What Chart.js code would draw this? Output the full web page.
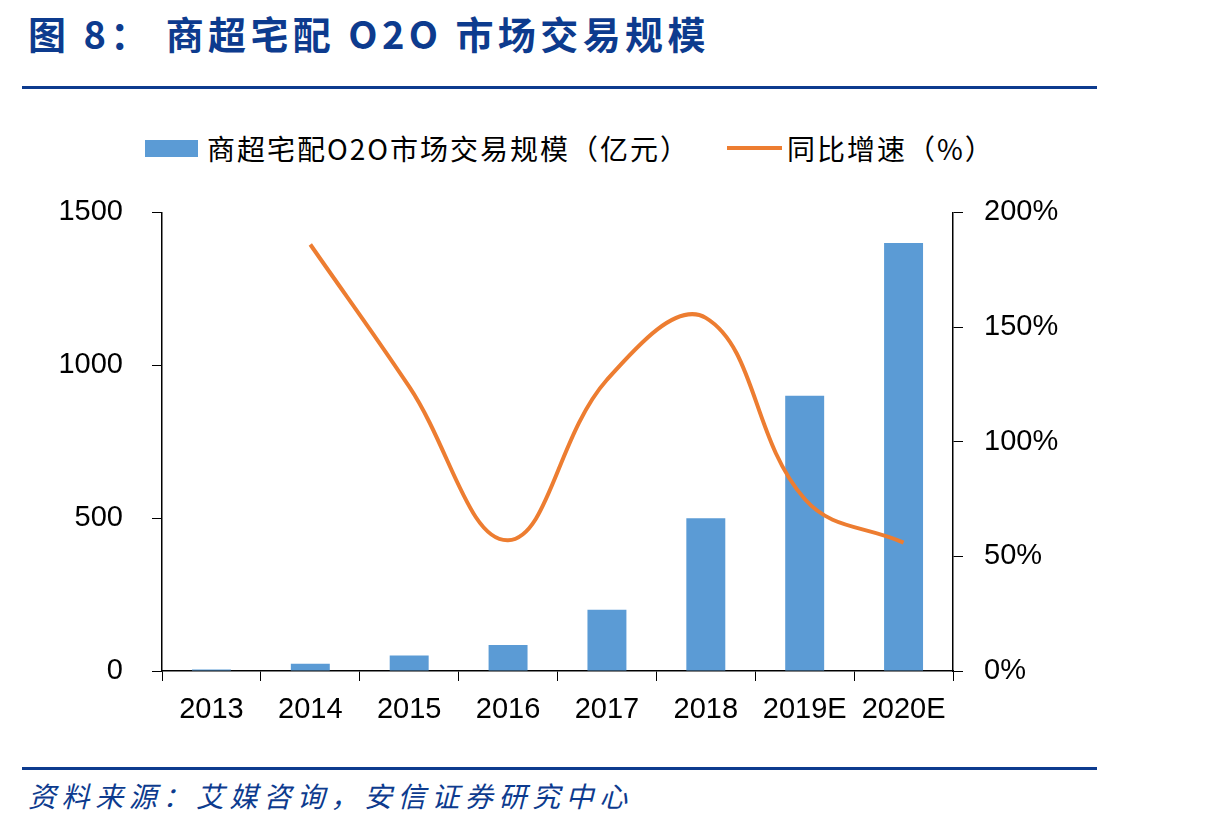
<!DOCTYPE html>
<html lang="zh">
<head>
  <meta charset="UTF-8"/>
  <title>商超宅配 O2O 市场交易规模</title>
  <script src="https://cdn.jsdelivr.net/npm/chart.js"></script>
  <style>
    body { margin:0; width:1214px; height:822px; background:#fff; position:relative; overflow:hidden; font-family:'Noto Sans CJK SC',sans-serif; }
    .title { position:absolute; left:28px; top:5px; font-size:38px; font-weight:700; color:#0d3b8e; letter-spacing:4.4px; white-space:nowrap; }
    .rule { position:absolute; left:22px; width:1075px; height:3px; background:#0d3b8e; }
    .legend { position:absolute; top:128px; left:0; height:40px; font-size:28px; color:#000; white-space:nowrap; letter-spacing:2px; }
    .legend span { position:absolute; top:0; line-height:40px; }
    .lg-box { position:absolute; left:145px; top:12px; width:53px; height:17px; background:#5b9bd5; }
    .lg-line { position:absolute; left:727px; top:18px; width:55px; height:4px; background:#ed7d31; }
    .source { position:absolute; left:28px; top:775px; font-size:28px; font-style:italic; color:#0d3b8e; letter-spacing:5.6px; white-space:nowrap; }
    #wrap { position:absolute; left:0; top:166px; width:1214px; height:565px; }
  </style>
</head>
<body>
<div class="title">图 8： 商超宅配 O2O 市场交易规模</div>
<div class="rule" style="top:86px"></div>

<div class="legend">
  <div class="lg-box"></div>
  <span style="left:207px">商超宅配O2O市场交易规模（亿元）</span>
  <div class="lg-line"></div>
  <span style="left:787px">同比增速（%）</span>
</div>

<div id="wrap"><canvas id="c"></canvas></div>

<div class="rule" style="top:767px"></div>
<div class="source">资料来源：艾媒咨询，安信证券研究中心</div>

<script>
  // data
  const years = ['2013','2014','2015','2016','2017','2018','2019E','2020E'];
  const scale = [5, 24, 51, 85, 200, 500, 900, 1400];          // 亿元
  const growth = [null, 186, 124, 57, 127, 154, 75, 56];        // %
  const leftTicks = [0, 500, 1000, 1500];
  const rightTicks = [0, 50, 100, 150, 200];

  const tickFont = { family:"'Liberation Sans', Arial, sans-serif", size:29 };

  new Chart(document.getElementById('c'), {
    data:{
      labels: years,
      datasets:[
        { type:'bar', label:'商超宅配O2O市场交易规模（亿元）', data:scale, yAxisID:'y',
          backgroundColor:'#5b9bd5', categoryPercentage:1, barPercentage:0.394, order:1 },
        { type:'line', label:'同比增速（%）', data:growth, yAxisID:'y1',
          borderColor:'#ed7d31', borderWidth:4, pointRadius:0, tension:0.4, fill:false, order:0 }
      ]
    },
    options:{
      responsive:true, maintainAspectRatio:false, animation:false,
      layout:{ padding:{ top:17, left:0, right:151, bottom:0 } },
      plugins:{ legend:{ display:false }, tooltip:{ enabled:false } },
      scales:{
        x:{
          grid:{ drawOnChartArea:false, drawTicks:true, tickLength:10, color:'#000', offset:true },
          border:{ display:true, color:'#000', width:1.5 },
          ticks:{ color:'#000', font:tickFont, padding:12, maxRotation:0 },
          afterFit: s => { s.height = 60; }
        },
        y:{
          position:'left', min:0, max:1500,
          afterBuildTicks: s => { s.ticks = leftTicks.map(v => ({ value:v })); },
          grid:{ drawOnChartArea:false, drawTicks:true, tickLength:10, color:'#000' },
          border:{ display:true, color:'#000', width:1.5 },
          ticks:{ color:'#000', font:tickFont, padding:29, callback: v => String(v) },
          afterFit: s => { s.width = 162; }
        },
        y1:{
          position:'right', min:0, max:200,
          afterBuildTicks: s => { s.ticks = rightTicks.map(v => ({ value:v })); },
          grid:{ drawOnChartArea:false, drawTicks:true, tickLength:10, color:'#000' },
          border:{ display:true, color:'#000', width:1.5 },
          ticks:{ color:'#000', font:tickFont, padding:21, callback: v => v + '%' },
          afterFit: s => { s.width = 110; }
        }
      }
    }
  });
</script>
</body>
</html>
